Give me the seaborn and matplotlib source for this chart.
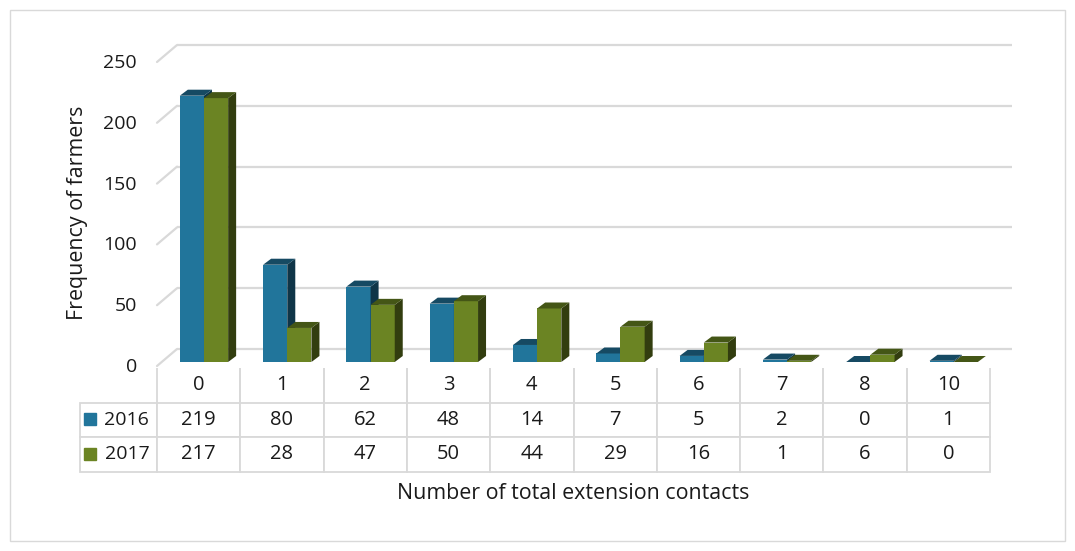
import seaborn as sns
import pandas as pd
import matplotlib.pyplot as plt
from matplotlib.patches import Polygon, Rectangle
from matplotlib.transforms import ScaledTranslation

# data
contacts = ['0', '1', '2', '3', '4', '5', '6', '7', '8', '10']
years = ['2016', '2017']
farmers_2016 = [219, 80, 62, 48, 14, 7, 5, 2, 0, 1]
farmers_2017 = [217, 28, 47, 50, 44, 29, 16, 1, 6, 0]
yticks = [0, 50, 100, 150, 200, 250]

front_colors = ['#21759b', '#6b8423']
side_colors = ['#0f3548', '#323d0f']
top_colors = ['#164a63', '#445616']
grid_color = '#d9d9d9'

df = pd.DataFrame({
    'contacts': contacts * 2,
    'year': [years[0]] * len(contacts) + [years[1]] * len(contacts),
    'farmers': farmers_2016 + farmers_2017,
})

sns.set_style('white')
plt.rcParams['font.family'] = ['Open Sans', 'DejaVu Sans']
plt.rcParams['text.color'] = '#1a1a1a'

W, H = 1075, 551
fig = plt.figure(figsize=(W / 100, H / 100), dpi=100)
# front plane of the bars: 0 at y=362 px, 250 at y=58 px
ax = fig.add_axes([157 / W, 1 - 362 / H, 833 / W, 304 / H])

sns.barplot(data=df, x='contacts', y='farmers', hue='year', order=contacts,
            hue_order=years, palette=front_colors, width=0.58, saturation=1,
            legend=False, ax=ax)

shift = 0.064  # bars sit a little right of the table cell centres
ax.set_xlim(-0.5 - shift, len(contacts) - 0.5 - shift)
ax.set_ylim(0, 250)
x0, x1 = ax.get_xlim()

# pixel -> data unit conversions
ux = 833 / len(contacts)
uy = 304 / 250

# 3d look: side and top faces for every bar
bdx, bdy = 8 / ux, 6 / uy
for i, cont in enumerate(ax.containers):
    for p in cont.patches:
        x, w, h = p.get_x(), p.get_width(), p.get_height()
        p.set_zorder(2 + i)
        p.set_linewidth(0)
        side = Polygon([(x + w, 0), (x + w + bdx, bdy), (x + w + bdx, h + bdy), (x + w, h)],
                       closed=True, fc=side_colors[i], ec='none', zorder=2 + i)
        top = Polygon([(x, h), (x + bdx, h + bdy), (x + w + bdx, h + bdy), (x + w, h)],
                      closed=True, fc=top_colors[i], ec='none', zorder=2 + i)
        ax.add_patch(side)
        ax.add_patch(top)

# back wall gridlines and the slanted left edge
wdx, wdy = 20 / ux, 13 / uy
fdy = -4 / uy
for t in yticks:
    ax.plot([x0 + wdx, x1 + wdx + 2 / ux], [t + wdy, t + wdy], color=grid_color, lw=1.6,
            zorder=0, clip_on=False, solid_capstyle='butt')
    ax.plot([x0, x0 + wdx], [t + fdy, t + wdy], color=grid_color, lw=1.6,
            zorder=0, clip_on=False)

ax.set_yticks(yticks)
ax.set_xticks([])
ax.tick_params(axis='y', length=0, pad=14.5, labelsize=14, labelcolor='#1a1a1a')
for lab in ax.get_yticklabels():
    lab.set_transform(lab.get_transform() + ScaledTranslation(0, -0.03, fig.dpi_scale_trans))
ax.set_xlabel('')
ax.set_ylabel('')
sns.despine(ax=ax, left=True, bottom=True)

# data table under the bars (bbox covers the value cells, row labels sit to the left)
cell_text = [[str(v) for v in farmers_2016], [str(v) for v in farmers_2017]]
tab = ax.table(cellText=cell_text, rowLabels=years, colLabels=contacts,
               colWidths=[1 / len(contacts)] * len(contacts), cellLoc='center',
               rowLoc='right', bbox=[0, -0.361, 1, 0.341])
tab._autoColumns = []
tab.auto_set_font_size(False)
tab.set_fontsize(14.5)
for (r, c), cell in tab.get_celld().items():
    cell.set_edgecolor(grid_color)
    cell.set_linewidth(1.3)
    if c == -1:
        cell.set_width(77 / 833)
        cell.get_text().set_fontsize(14)
    if r == 0:
        cell.visible_edges = 'LR'

for i, yy in enumerate([-0.1875, -0.3026]):
    ax.plot([-67 / 833], [yy], transform=ax.transAxes, marker='s', ms=8,
            color=front_colors[i], clip_on=False, zorder=5)

ax.text(0.5, -0.431, 'Number of total extension contacts', transform=ax.transAxes,
        ha='center', va='center', fontsize=15.4)
ax.text(-79 / 833, 0.492, 'Frequency of farmers', transform=ax.transAxes,
        ha='center', va='center', rotation=90, fontsize=15.4)

# light frame round the whole chart
fig.add_artist(Rectangle((10 / W, 10 / H), 1055 / W, 531 / H, transform=fig.transFigure,
                         fill=False, ec=grid_color, lw=1))

fig.savefig('out.png', dpi=100)
